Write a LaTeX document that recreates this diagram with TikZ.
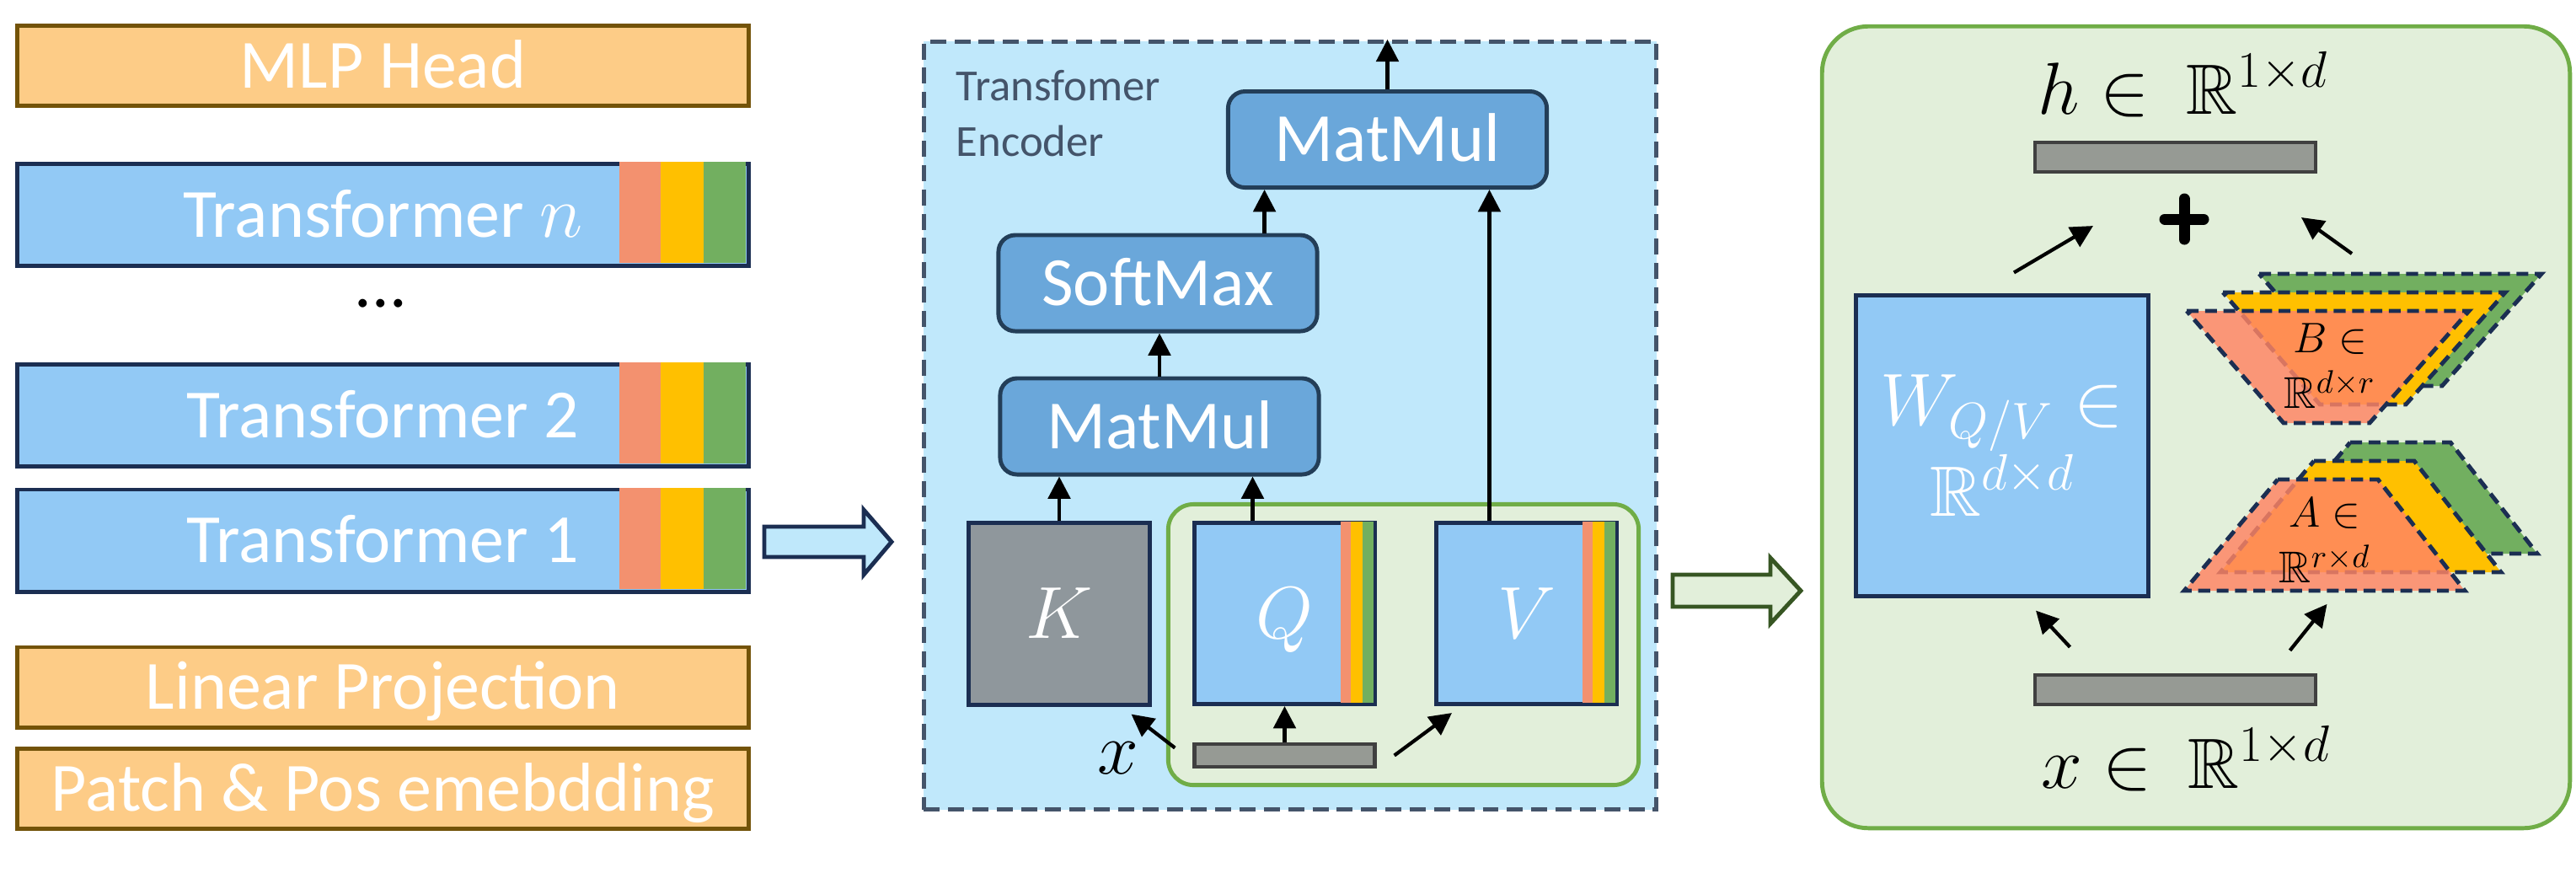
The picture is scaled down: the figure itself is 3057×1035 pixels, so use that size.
\documentclass[tikz,border=0pt]{standalone}
\usepackage{amsmath,amssymb}
\usepackage{fontspec}
\setmainfont{Carlito}
\usetikzlibrary{arrows.meta,calc}
\definecolor{lorange}{HTML}{FDCC87}
\definecolor{obrown}{HTML}{735309}
\definecolor{tblue}{HTML}{92C9F5}
\definecolor{navy}{HTML}{1B2E52}
\definecolor{stsal}{HTML}{F3916F}
\definecolor{styel}{HTML}{FFC000}
\definecolor{stgrn}{HTML}{72AF60}
\definecolor{encfill}{HTML}{C0E8FB}
\definecolor{encdash}{HTML}{44546A}
\definecolor{opfill}{HTML}{6AA7DA}
\definecolor{opdraw}{HTML}{233E58}
\definecolor{kgray}{HTML}{8F979C}
\definecolor{bargray}{HTML}{969A94}
\definecolor{bardark}{HTML}{404040}
\definecolor{lgfill}{HTML}{E2EFDA}
\definecolor{lgdraw}{HTML}{70AD47}
\definecolor{dgdraw}{HTML}{375623}
\definecolor{arfill}{HTML}{BFE8FB}
\definecolor{trsal}{HTML}{FF8464}
\newcommand{\lblfont}{\fontsize{23.3}{28}\selectfont}
\newcommand{\mthfont}{\fontsize{24}{30.7}\selectfont}
\newcommand{\smlfont}{\fontsize{15}{18.8}\selectfont}
\tikzset{
  obox/.style={draw=obrown, fill=lorange, line width=1.4pt, minimum width=8.68cm, minimum height=0.95cm, inner sep=0pt, text=white, font=\lblfont, text height=15pt, text depth=0pt},
  tbox/.style={obox, draw=navy, fill=tblue, minimum height=1.21cm},
  enc/.style={draw=encdash, fill=encfill, line width=1.4pt, dash pattern=on 5.4pt off 2.8pt, minimum width=8.69cm, minimum height=9.11cm},
  oper/.style={draw=opdraw, fill=opfill, line width=1.4pt, rounded corners=0.2cm, minimum width=3.78cm, minimum height=1.14cm, inner sep=0pt, text=white, font=\lblfont, text height=15pt, text depth=0pt},
  mat/.style={draw=navy, fill=tblue, line width=1.4pt, minimum width=2.14cm, minimum height=2.15cm, inner sep=0pt, text=white, font=\mthfont, text height=16.5pt, text depth=0pt},
  vecbar/.style={draw=bardark, fill=bargray, line width=1.2pt, inner sep=0pt},
  arr/.style={-{Triangle[length=7.5pt,width=7.5pt]}, line width=1.2pt},
  lrlayer/.style={draw=navy, line width=1.4pt, dash pattern=on 4pt off 2.2pt},
  stripe/.style={draw=none}
}
\begin{document}
\begin{tikzpicture}[x=0.01cm, y=-0.01cm]
    \useasboundingbox (0,0) rectangle (3057,1035);
    \node [obox] (mlp) at (454.5,78) {MLP Head};
    \node [tbox] (tfn) at (454.5,255) {Transformer $n$};
    \node [font=\lblfont, inner sep=0pt] (dts) at (452,360) {...};
    \node [tbox] (tf2) at (454.5,493) {Transformer 2};
    \node [tbox] (tf1) at (454.5,641.5) {Transformer 1};
    \node [obox] (lin) at (454.5,815.5) {Linear Projection};
    \node [obox] (pat) at (454.5,936) {Patch \& Pos emebdding};
    \foreach \nm in {tfn,tf2,tf1} {
        \fill [stsal] ($(\nm.north east)+(-156,0)$) rectangle ($(\nm.south east)+(-107,-6)$);
        \fill [styel] ($(\nm.north east)+(-107,0)$) rectangle ($(\nm.south east)+(-56,-6)$);
        \fill [stgrn] ($(\nm.north east)+(-56,0)$) rectangle ($(\nm.south east)+(-6,-6)$);
    }
    \draw [draw=navy, fill=arfill, line width=1.4pt] (907,625) -- (1025,625) -- (1025,605) -- (1058,643) -- (1025,682) -- (1025,661) -- (907,661) -- cycle;
    \node [enc] (enc) at (1531,505) {};
    \node [anchor=north west, align=left, inner sep=0pt, text=encdash, font=\smlfont] (enct) at (1134,83) {Transfomer\\Encoder};
    \node [oper] (mm2) at (1646.5,165.5) {MatMul};
    \node [oper] (sm) at (1374,336) {SoftMax};
    \node [oper] (mm1) at (1376,506) {MatMul};
    \node [draw=lgdraw, fill=lgfill, line width=1.4pt, rounded corners=0.3cm, minimum width=5.58cm, minimum height=3.33cm] (grp) at (1665.5,765) {};
    \node [mat, fill=kgray] (k) at (1257,728.5) {$K$};
    \node [mat] (q) at (1524.5,728) {$Q$};
    \node [mat] (v) at (1811.5,728) {$V$};
    \foreach \nm in {q,v} {
        \fill [stsal] ($(\nm.north east)+(-43,1)$) rectangle ($(\nm.south east)+(-31,-4)$);
        \fill [styel] ($(\nm.north east)+(-31,1)$) rectangle ($(\nm.south east)+(-17,-4)$);
        \fill [stgrn] ($(\nm.north east)+(-17,1)$) rectangle ($(\nm.south east)+(-4,-4)$);
    }
    \node [vecbar, minimum width=2.14cm, minimum height=0.27cm] (xbar) at (1524.5,896.5) {};
    \node [font=\mthfont, inner sep=0pt] (xlbl) at (1327,900) {$x$};
    \draw [arr] (mm2.north) -- (mm2.north |- enc.north);
    \coordinate (smout) at ($(sm.north east)+(-65,0)$);
    \draw [arr] (smout) -- (smout |- mm2.south);
    \draw [arr] (mm1.north) -- (mm1.north |- sm.south);
    \draw [arr] (k.north) -- (k.north |- mm1.south);
    \coordinate (qout) at ($(q.north)+(-38,0)$);
    \draw [arr] (qout) -- (qout |- mm1.south);
    \coordinate (vout) at ($(v.north)+(-44,0)$);
    \draw [arr] (vout) -- (vout |- mm2.south);
    \coordinate (xk) at ($(xbar.west)+(-21,-9)$);
    \draw [arr] (xk) -- ($(k.south east)+(-24,9)$);
    \draw [arr] (xbar.north) -- (xbar.north |- q.south);
    \coordinate (xv) at ($(xbar.east)+(21,0)$);
    \draw [arr] (xv) -- ($(v.south west)+(21,8)$);
    \draw [draw=dgdraw, fill=lgfill, line width=1.4pt] (1985,682) -- (2101,682) -- (2101,662) -- (2137,701) -- (2101,740) -- (2101,720) -- (1985,720) -- cycle;
    \node [draw=lgdraw, fill=lgfill, line width=1.4pt, rounded corners=0.55cm, minimum width=8.87cm, minimum height=9.51cm] (lora) at (2606,507) {};
    \node [font=\mthfont, anchor=base, inner sep=0pt] (hlbl) at (2591,135) {$h \in\ \mathbb{R}^{1\times d}$};
    \node [vecbar, minimum width=3.33cm, minimum height=0.35cm] (hbar) at (2581.5,186.5) {};
    \coordinate (plus) at (2592,260);
    \draw [line width=3.7pt, line cap=round] ($(plus)+(-23,0)$) -- ($(plus)+(23,0)$);
    \draw [line width=3.7pt, line cap=round] ($(plus)+(0,-24)$) -- ($(plus)+(0,24)$);
    \node [mat, minimum width=3.47cm, minimum height=3.56cm, align=center, text height=, text depth=] (w) at (2376,529) {$W_{Q/V} \in$\\$\mathbb{R}^{d\times d}$};
    \foreach \s/\cl in {2/stgrn, 1/styel} {
        \draw [lrlayer, fill=\cl, shift={(43*\s,-22*\s)}] (2595,369) -- (2930,369) -- (2812,502) -- (2710,502) -- cycle;
        \draw [lrlayer, fill=\cl, shift={(43*\s,-22*\s)}] (2703,569) -- (2822,569) -- (2925,701) -- (2592,701) -- cycle;
    }
    \draw [lrlayer, fill=trsal, fill opacity=0.83] (2595,369) -- (2930,369) -- (2812,502) -- (2710,502) -- cycle;
    \draw [lrlayer, fill=trsal, fill opacity=0.83] (2703,569) -- (2822,569) -- (2925,701) -- (2592,701) -- cycle;
    \node [font=\smlfont, align=center, inner sep=0pt] (blbl) at (2765,434) {$B \in$\\$\mathbb{R}^{d\times r}$};
    \node [font=\smlfont, align=center, inner sep=0pt] (albl) at (2759,641) {$A \in$\\$\mathbb{R}^{r\times d}$};
    \node [vecbar, minimum width=3.33cm, minimum height=0.35cm] (xbar2) at (2581.5,818.5) {};
    \node [font=\mthfont, anchor=base, inner sep=0pt] (xlbl2) at (2594,935) {$x \in\ \mathbb{R}^{1\times d}$};
    \coordinate (wtop) at ($(w.north)+(14,-25)$);
    \draw [arr] (wtop) -- ($(plus)+(-108,8)$);
    \coordinate (btop) at ($(plus)+(199,41)$);
    \draw [arr] (btop) -- ($(plus)+(139,-2)$);
    \coordinate (xw) at ($(xbar2.north)+(-125,-31)$);
    \draw [arr] (xw) -- ($(w.south)+(40,15)$);
    \coordinate (xa) at ($(xbar2.north)+(136,-27)$);
    \draw [arr] (xa) -- ($(xbar2.north)+(180,-82)$);
\end{tikzpicture}
\end{document}
